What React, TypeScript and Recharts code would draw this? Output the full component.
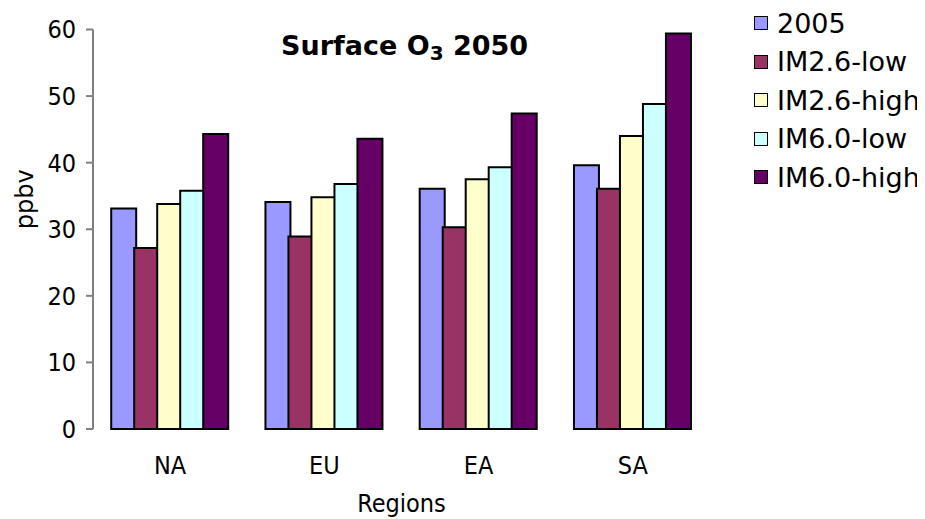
import { BarChart, Bar, XAxis, YAxis } from "recharts";

const regions = ["NA", "EU", "EA", "SA"];
const s2005 = [33.1, 34.1, 36.1, 39.6];
const im26Low = [27.2, 28.9, 30.3, 36.1];
const im26High = [33.8, 34.8, 37.5, 44.0];
const im60Low = [35.8, 36.8, 39.3, 48.8];
const im60High = [44.3, 43.6, 47.4, 59.4];
const yTicks = [0, 10, 20, 30, 40, 50, 60];

const SERIES = [
  { key: "2005", values: s2005, color: "#9999ff" },
  { key: "IM2.6-low", values: im26Low, color: "#993366" },
  { key: "IM2.6-high", values: im26High, color: "#ffffcc" },
  { key: "IM6.0-low", values: im60Low, color: "#ccffff" },
  { key: "IM6.0-high", values: im60High, color: "#660066" },
];

const data = regions.map((r, i) => {
  const row: any = { region: r };
  SERIES.forEach((s) => (row[s.key] = s.values[i]));
  return row;
});

const FONT = "'DejaVu Sans', Verdana, sans-serif";
const COND = "'DejaVu Sans Condensed', 'DejaVu Sans', sans-serif";

// legend with black-bordered squares like the excel one
const LegendBox = () => (
  <div
    style={{
      position: "absolute",
      left: 746,
      top: -4,
      width: 175,
      whiteSpace: "nowrap",
      fontFamily: FONT,
      fontSize: 27,
      color: "#000",
    }}
  >
    {SERIES.map((s) => (
      <div key={s.key} style={{ display: "flex", alignItems: "center", height: 38.5 }}>
        <span
          style={{
            width: 12,
            height: 12,
            flex: "none",
            background: s.color,
            border: "1.5px solid #000",
            marginRight: 9,
            display: "inline-block",
          }}
        />
        {s.key}
      </div>
    ))}
  </div>
);

export default function App() {
  return (
    <div style={{ position: "relative", width: 909, height: 511, fontFamily: FONT }}>
      <div
        style={{
          position: "absolute",
          left: 273,
          top: 22,
          fontSize: 27,
          fontWeight: "bold",
          zIndex: 2,
        }}
      >
        Surface O<sub style={{ fontSize: 20, verticalAlign: "-5px" }}>3</sub> 2050
      </div>
      <LegendBox />
      <BarChart
        width={909}
        height={511}
        data={data}
        margin={{ top: 21.5, right: 207, bottom: 0, left: 0 }}
        barCategoryGap="11.8%"
        barGap={-2}
      >
        <XAxis
          xAxisId="edge"
          type="number"
          domain={[0, 4]}
          ticks={[0, 1, 2, 3, 4]}
          height={0}
          tickFormatter={() => ""}
          tickSize={7}
          stroke="#808080"
          strokeWidth={2}
        />
        <XAxis
          xAxisId="cat"
          dataKey="region"
          axisLine={false}
          tickLine={false}
          height={90}
          tick={{ fill: "#000", fontSize: 25, fontFamily: COND }}
          tickMargin={21}
          label={{ value: "Regions", position: "insideBottom", offset: 7, fill: "#000", fontSize: 25, fontFamily: COND }}
        />
        <YAxis
          domain={[0, 60]}
          ticks={yTicks}
          width={85}
          stroke="#808080"
          strokeWidth={2}
          tickSize={7}
          tickMargin={10}
          tick={{ fill: "#000", fontSize: 25, fontFamily: COND }}
          label={{ value: "ppbv", angle: -90, position: "insideLeft", offset: 16, fill: "#000", fontSize: 24, fontFamily: FONT }}
        />
        {SERIES.map((s) => (
          <Bar
            key={s.key}
            xAxisId="cat"
            dataKey={s.key}
            fill={s.color}
            stroke="#000"
            strokeWidth={2}
            isAnimationActive={false}
          />
        ))}
      </BarChart>
    </div>
  );
}
